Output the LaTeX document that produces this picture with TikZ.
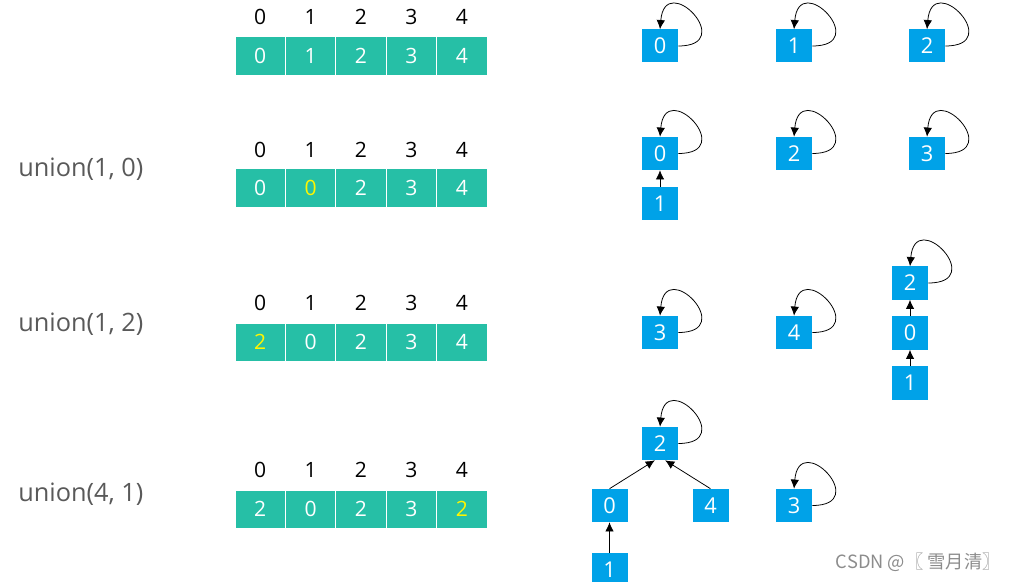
\documentclass[tikz,border=0pt]{standalone}
\usepackage{fontspec}
\setmainfont{Open Sans}
\newfontfamily\cjk{Noto Sans CJK SC}
\usetikzlibrary{positioning,arrows.meta}
\definecolor{xanhngoc}{RGB}{38,191,166}
\definecolor{xanhduong}{RGB}{0,162,232}
\definecolor{xamchu}{RGB}{89,89,89}
\definecolor{vangchu}{RGB}{255,245,0}
\tikzset{
    o/.style={fill=xanhngoc, draw=white, line width=0.7pt, minimum width=1.26cm,
        minimum height=0.95cm, inner sep=0pt, text=white, font=\fontsize{15}{15}\selectfont},
    chiso/.style={inner sep=0pt, text=black, font=\fontsize{15}{15}\selectfont},
    nut/.style={fill=xanhduong, minimum width=0.9cm, minimum height=0.825cm,
        inner sep=0pt, text=white, font=\fontsize{15.5}{15.5}\selectfont},
    lenh/.style={anchor=west, inner sep=0pt, text=xamchu, font=\fontsize{18}{18}\selectfont},
    vong/.style={out=0, in=85, looseness=6.2},
    canh/.style={-{Latex[length=6.5pt,width=6pt]}, line width=0.55pt}
}
\begin{document}
\begin{tikzpicture}[x=0.025cm, y=0.025cm]
    % 1. Khung hình
    \useasboundingbox (0,0) rectangle (1011,-582);

    % 2. Các lệnh union
    \node[lenh] (u2) at (18,-169) {union(1, 0)};
    \node[lenh] (u3) at (18,-324) {union(1, 2)};
    \node[lenh] (u4) at (18,-494) {union(4, 1)};

    % 3. Mảng id, hàng 1
    \node[o] (a10) at (260.2,-56) {0};
    \node[o] (a11) at (310.6,-56) {1};
    \node[o] (a12) at (361.0,-56) {2};
    \node[o] (a13) at (411.4,-56) {3};
    \node[o] (a14) at (461.8,-56) {4};
    \node[chiso] (i10) at (260.2,-17) {0};
    \node[chiso] (i11) at (310.6,-17) {1};
    \node[chiso] (i12) at (361.0,-17) {2};
    \node[chiso] (i13) at (411.4,-17) {3};
    \node[chiso] (i14) at (461.8,-17) {4};

    % Hàng 2: union(1, 0)
    \node[o] (a20) at (260.2,-188) {0};
    \node[o, text=vangchu] (a21) at (310.6,-188) {0};
    \node[o] (a22) at (361.0,-188) {2};
    \node[o] (a23) at (411.4,-188) {3};
    \node[o] (a24) at (461.8,-188) {4};
    \node[chiso] (i20) at (260.2,-150) {0};
    \node[chiso] (i21) at (310.6,-150) {1};
    \node[chiso] (i22) at (361.0,-150) {2};
    \node[chiso] (i23) at (411.4,-150) {3};
    \node[chiso] (i24) at (461.8,-150) {4};

    % Hàng 3: union(1, 2)
    \node[o, text=vangchu] (a30) at (260.2,-342) {2};
    \node[o] (a31) at (310.6,-342) {0};
    \node[o] (a32) at (361.0,-342) {2};
    \node[o] (a33) at (411.4,-342) {3};
    \node[o] (a34) at (461.8,-342) {4};
    \node[chiso] (i30) at (260.2,-303) {0};
    \node[chiso] (i31) at (310.6,-303) {1};
    \node[chiso] (i32) at (361.0,-303) {2};
    \node[chiso] (i33) at (411.4,-303) {3};
    \node[chiso] (i34) at (461.8,-303) {4};

    % Hàng 4: union(4, 1)
    \node[o] (a40) at (260.2,-509) {2};
    \node[o] (a41) at (310.6,-509) {0};
    \node[o] (a42) at (361.0,-509) {2};
    \node[o] (a43) at (411.4,-509) {3};
    \node[o, text=vangchu] (a44) at (461.8,-509) {2};
    \node[chiso] (i40) at (260.2,-470) {0};
    \node[chiso] (i41) at (310.6,-470) {1};
    \node[chiso] (i42) at (361.0,-470) {2};
    \node[chiso] (i43) at (411.4,-470) {3};
    \node[chiso] (i44) at (461.8,-470) {4};

    % 4. Các cây, hàng 1
    \node[nut] (t10) at (660,-46) {0};
    \node[nut] (t11) at (794,-46) {1};
    \node[nut] (t12) at (927,-46) {2};
    \draw[canh] (t10.east) to[vong] (t10.north);
    \draw[canh] (t11.east) to[vong] (t11.north);
    \draw[canh] (t12.east) to[vong] (t12.north);

    % Hàng 2
    \node[nut] (t20) at (660,-153.5) {0};
    \node[nut] (t21) at (660,-203.5) {1};
    \node[nut] (t22) at (794,-153.5) {2};
    \node[nut] (t23) at (927,-153.5) {3};
    \draw[canh] (t20.east) to[vong] (t20.north);
    \draw[canh] (t22.east) to[vong] (t22.north);
    \draw[canh] (t23.east) to[vong] (t23.north);
    \draw[canh] (t21) -- (t20);

    % Hàng 3
    \node[nut] (t33) at (660,-332.5) {3};
    \node[nut] (t34) at (794,-332.5) {4};
    \node[nut] (t32) at (910,-283) {2};
    \node[nut] (t30) at (910,-333) {0};
    \node[nut] (t31) at (910,-383) {1};
    \draw[canh] (t33.east) to[vong] (t33.north);
    \draw[canh] (t34.east) to[vong] (t34.north);
    \draw[canh] (t32.east) to[vong] (t32.north);
    \draw[canh] (t30) -- (t32);
    \draw[canh] (t31) -- (t30);

    % Hàng 4
    \node[nut] (t42) at (660,-443.5) {2};
    \node[nut] (t40) at (609.5,-505.5) {0};
    \node[nut] (t44) at (710.5,-505.5) {4};
    \node[nut] (t43) at (794,-505.5) {3};
    \node[nut] (t41) at (609.5,-570) {1};
    \draw[canh] (t42.east) to[vong] (t42.north);
    \draw[canh] (t43.east) to[vong] (t43.north);
    \draw[canh] (t40.north) -- (t42.-107);
    \draw[canh] (t44.north) -- (t42.-73);
    \draw[canh] (t41) -- (t40);

    % 5. Chữ ký
    \node[anchor=east, inner sep=0pt, text=black!45, font=\cjk\fontsize{13}{13}\selectfont]
        (wm) at (1001,-562) {CSDN @〖 雪月清〗};
\end{tikzpicture}
\end{document}
